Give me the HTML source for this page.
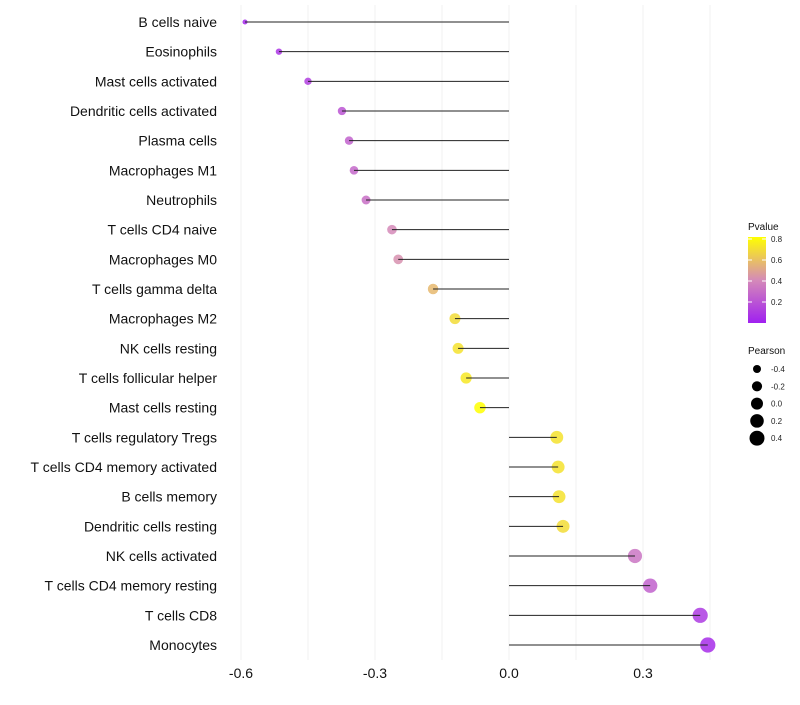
<!DOCTYPE html>
<html><head><meta charset="utf-8"><style>
body{margin:0;background:#fff;font-family:"Liberation Sans",sans-serif}
</style></head><body>
<svg id="chart" width="800" height="700" font-family="Liberation Sans, sans-serif">
<defs><linearGradient id="pg" x1="0" y1="1" x2="0" y2="0">
<stop offset="0" stop-color="#A020F0"/><stop offset="0.5" stop-color="#D58AB8"/><stop offset="1" stop-color="#FFFF00"/></linearGradient></defs>
<g id="grid"></g><g id="points"></g><g id="stems"></g><g id="labels"></g>
<g>
<text x="748" y="230" font-size="10" fill="#111">Pvalue</text>
<rect x="748" y="237" width="18" height="86" fill="url(#pg)"/>
<g id="cbticks"></g>
</g>
<g id="sizeleg">
<text x="748" y="354" font-size="10" fill="#111">Pearson</text>
</g>
</svg>
<script>
const categories=["B cells naive","Eosinophils","Mast cells activated","Dendritic cells activated","Plasma cells","Macrophages M1","Neutrophils","T cells CD4 naive","Macrophages M0","T cells gamma delta","Macrophages M2","NK cells resting","T cells follicular helper","Mast cells resting","T cells regulatory  Tregs ","T cells CD4 memory activated","B cells memory","Dendritic cells resting","NK cells activated","T cells CD4 memory resting","T cells CD8","Monocytes"];
const pearson=[-0.591,-0.515,-0.45,-0.374,-0.358,-0.347,-0.32,-0.262,-0.248,-0.17,-0.121,-0.114,-0.096,-0.065,0.107,0.11,0.112,0.121,0.282,0.316,0.428,0.445];
const pvalue=[0.03,0.08,0.12,0.2,0.25,0.27,0.3,0.4,0.42,0.56,0.68,0.7,0.72,0.8,0.7,0.7,0.7,0.68,0.32,0.25,0.1,0.05];
const xTicks=[-0.6,-0.3,0.0,0.3];
const xTickLabels=["-0.6","-0.3","0.0","0.3"];
const gridVals=[-0.6,-0.45,-0.3,-0.15,0,0.15,0.3,0.45];
const cbTicks=[0.2,0.4,0.6,0.8];
const sizeLegend=[-0.4,-0.2,0.0,0.2,0.4];
const NS="http://www.w3.org/2000/svg";
const x=v=>509+v*446.7;
const y=i=>22+i*29.667;
const rad=v=>Math.sqrt(Math.max(3,36+50*v));
function hex(h){return [1,3,5].map(k=>parseInt(h.substr(k,2),16));}
function col(p){const s=[[0,"#A020F0"],[0.4,"#D58AB8"],[0.8,"#FFFF00"]];p=Math.max(0,Math.min(0.8,p));
let i=p<=0.4?0:1;const t=(p-s[i][0])/0.4,a=hex(s[i][1]),b=hex(s[i+1][1]);
return "rgb("+a.map((c,k)=>Math.round(c+(b[k]-c)*t)).join(",")+")";}
function mk(tag,attrs,parent){const e=document.createElementNS(NS,tag);for(const k in attrs)e.setAttribute(k,attrs[k]);parent.appendChild(e);return e;}
const grid=document.getElementById('grid'),points=document.getElementById('points'),stems=document.getElementById('stems'),labels=document.getElementById('labels');
gridVals.forEach(v=>{const l=mk('line',{x1:x(v),x2:x(v),y1:5,y2:660,stroke:'#f0f0f0','stroke-width':1},grid);

});
xTicks.forEach((v,i)=>{const t=mk('text',{x:x(v),y:678,'font-size':14,'text-anchor':'middle',fill:'#111'},labels);t.textContent=xTickLabels[i];

});
categories.forEach((c,i)=>{
const t=mk('text',{x:217,y:y(i)+5,'font-size':14,'text-anchor':'end',fill:'#111'},labels);t.textContent=c;


const d=mk('circle',{cx:x(pearson[i]),cy:y(i),r:rad(pearson[i]),fill:col(pvalue[i]),'fill-opacity':0.85},points);


const l=mk('line',{x1:x(0),x2:x(pearson[i]),y1:y(i),y2:y(i),stroke:'#222','stroke-width':1},stems);


});
const cb=document.getElementById('cbticks');
cbTicks.forEach(v=>{const yy=323-v/0.8*84;
mk('line',{x1:748,x2:752,y1:yy,y2:yy,stroke:'#fff'},cb);mk('line',{x1:762,x2:766,y1:yy,y2:yy,stroke:'#fff'},cb);
const t=mk('text',{x:771,y:yy+3,'font-size':8,fill:'#222'},cb);t.textContent=v.toFixed(1);

});
const sl=document.getElementById('sizeleg');
sizeLegend.forEach((v,i)=>{const yy=369+i*17.3;
const c=mk('circle',{cx:757,cy:yy,r:rad(v),fill:'#000'},sl);


const t=mk('text',{x:771,y:yy+3,'font-size':8,fill:'#222'},sl);t.textContent=v.toFixed(1);

});
</script>
</body></html>
